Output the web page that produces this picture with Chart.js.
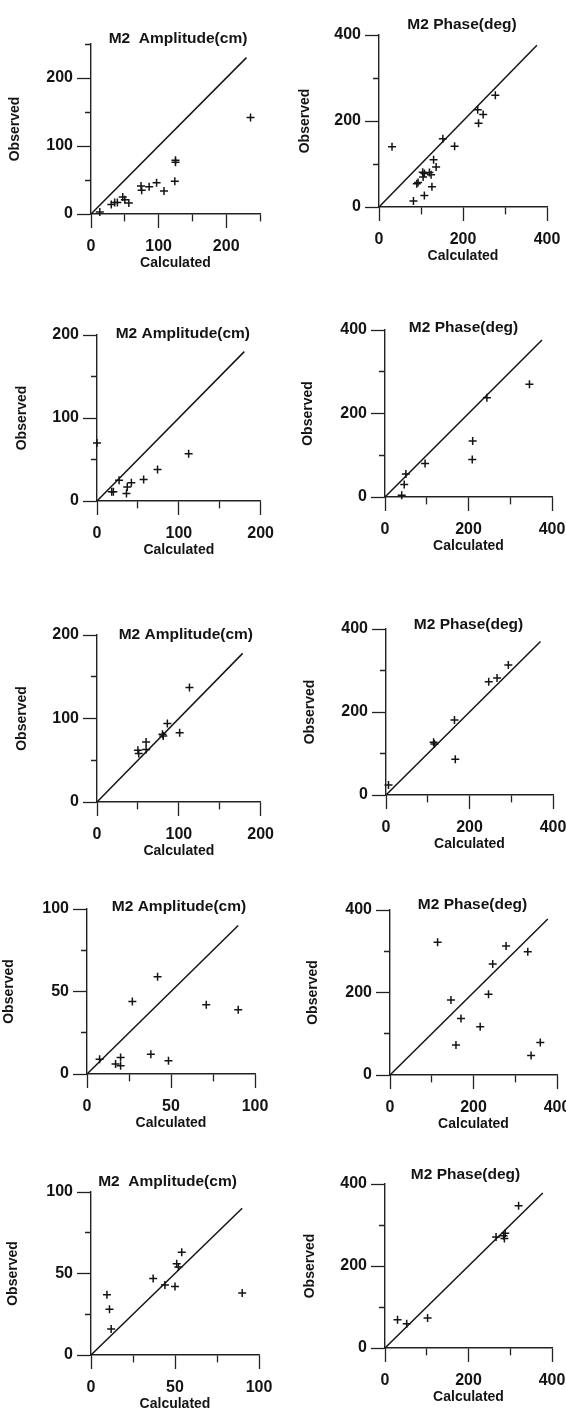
<!DOCTYPE html>
<html>
<head>
<meta charset="utf-8">
<script src="https://cdn.jsdelivr.net/npm/chart.js@4.4.1/dist/chart.umd.min.js"></script>
<style>
  html, body { margin: 0; padding: 0; background: #fff; }
  body { width: 566px; height: 1410px; overflow: hidden; position: relative; }
  canvas { position: absolute; }
</style>
</head>
<body>
<script>
// ---------------- DATA ----------------
const ampTitle1 = 'M2  Amplitude(cm)';
const ampTitle = 'M2 Amplitude(cm)';
const phaseTitle = 'M2 Phase(deg)';
const xTitle = 'Calculated';
const yTitle = 'Observed';

// Panel 1 (row 1, amplitude)
const p1Calc = [13, 30, 35, 39, 47, 50, 56, 74, 75, 86, 97, 108, 124, 125, 125, 236];
const p1Obs  = [3, 14, 17, 17, 25, 21, 16, 41, 35, 40, 46, 34, 48, 79, 76, 142];
// Panel 2 (row 1, phase)
const p2Calc = [31, 82, 90, 93, 104, 105, 108, 108, 120, 124, 126, 130, 136, 152, 180, 235, 237, 248, 277];
const p2Obs  = [140, 14, 54, 57, 81, 70, 78, 27, 80, 75, 47, 110, 93, 159, 141, 226, 195, 215, 260];
// Panel 3 (row 2, amplitude)
const p3Calc = [0, 18, 20, 27, 36, 37, 42, 57, 74, 112];
const p3Obs  = [70, 11, 11, 25, 9, 17, 22, 26, 38, 57];
// Panel 4 (row 2, phase)
const p4Calc = [40, 46, 50, 96, 209, 210, 244, 346];
const p4Obs  = [4, 30, 55, 80, 90, 134, 238, 270];
// Panel 5 (row 3, amplitude)
const p5Calc = [50, 51, 60, 60, 80, 81, 86, 101, 113];
const p5Obs  = [62, 58, 72, 63, 81, 79, 94, 83, 137];
// Panel 6 (row 3, phase)
const p6Calc = [6, 114, 116, 164, 166, 246, 266, 293];
const p6Obs  = [24, 127, 123, 181, 86, 273, 282, 313];
// Panel 7 (row 4, amplitude)
const p7Calc = [7.5, 17, 20, 20, 27, 38, 42, 48.5, 71, 90];
const p7Obs  = [9, 6, 10, 5, 44, 12, 59, 8, 42, 39];
// Panel 8 (row 4, phase)
const p8Calc = [114, 146, 158, 170, 216, 236, 246, 278, 330, 338, 360];
const p8Obs  = [322, 182, 73, 137, 117, 196, 269, 313, 299, 47, 79];
// Panel 9 (row 5, amplitude)
const p9Calc = [9.5, 11, 12, 37, 44, 50, 51, 52, 54, 90];
const p9Obs  = [37, 28, 16, 47, 43, 42, 56, 54, 63, 38];
// Panel 10 (row 5, phase)
const p10Calc = [30, 52, 102, 266, 284, 286, 288, 320];
const p10Obs  = [69, 59, 73, 271, 274, 267, 280, 347];

const panelTitles = [ampTitle1, phaseTitle, ampTitle, phaseTitle, ampTitle, phaseTitle, ampTitle, phaseTitle, ampTitle1, phaseTitle];
const panelCalc = [p1Calc, p2Calc, p3Calc, p4Calc, p5Calc, p6Calc, p7Calc, p8Calc, p9Calc, p10Calc];
const panelObs  = [p1Obs, p2Obs, p3Obs, p4Obs, p5Obs, p6Obs, p7Obs, p8Obs, p9Obs, p10Obs];
const axisMax   = [250, 400, 200, 400, 200, 400, 100, 400, 100, 400];
const tickStep  = [50, 100, 50, 100, 50, 100, 25, 100, 25, 100];
const labelStep = [100, 200, 100, 200, 100, 200, 50, 200, 50, 200];
const refLineEnd = [230, 376, 180, 376, 178, 370, 90, 378, 90, 378];

// ---------------- LAYOUT (page pixels) ----------------
// plot area boxes [left, top, right, bottom]
const plotBoxes = [
  [91, 44, 260, 214], [379, 35, 547, 207],
  [97, 335, 265, 501], [385, 330, 552, 497],
  [97, 635, 265, 802], [386, 629, 553, 795],
  [87, 909, 255, 1074], [390, 910, 557, 1075],
  [91, 1192, 259, 1355], [385, 1184, 552, 1348]
];
const titleShift = [[2.5, -5], [-1, -10], [4, -1], [-5, -2], [7, 0], [-1, -4], [8, -2], [-1, -5], [-7.5, -10], [-3, -9]];
const yTitleCenter = [15, 22, 21.7, 25, 21.7, 27, 9.3, 30, 13.3, 27];

const FONT = "'Liberation Sans', Arial, Helvetica, sans-serif";
const INK = '#141414';
Chart.defaults.font.family = FONT;
Chart.defaults.color = INK;

const panelTitlePlugin = {
  id: 'panelTitle',
  afterDraw(chart, args, opts) {
    const ca = chart.chartArea;
    const ctx = chart.ctx;
    ctx.save();
    ctx.font = 'bold 15.5px ' + FONT;
    ctx.fillStyle = INK;
    ctx.textAlign = 'center';
    ctx.textBaseline = 'middle';
    ctx.fillText(opts.text, (ca.left + ca.right) / 2 + opts.dx, ca.top + opts.dy);
    ctx.restore();
  }
};

for (let i = 0; i < 10; i++) {
  const [L, T, R, B] = plotBoxes[i];
  const rightCol = i % 2 === 1;
  const cx = rightCol ? 283 : 0;
  const cw = rightCol ? 300 : 283;
  const topRoom = 40, bottomRoom = 64, xBoxH = 58;
  const cy = T - topRoom;
  const ch = (B - T) + topRoom + bottomRoom;
  const canvas = document.createElement('canvas');
  canvas.width = cw; canvas.height = ch;
  canvas.style.left = cx + 'px'; canvas.style.top = cy + 'px';
  canvas.style.width = cw + 'px'; canvas.style.height = ch + 'px';
  document.body.appendChild(canvas);

  const yW = L - cx;
  const lStep = labelStep[i];
  const isMajor = (c) => c.tick && Math.abs(c.tick.value % lStep) < 1e-9;

  const pts = panelCalc[i].map((c, k) => ({ x: c, y: panelObs[i][k] }));
  const line = [{ x: 0, y: 0 }, { x: refLineEnd[i], y: refLineEnd[i] }];

  const axisCommon = (title, extra, minorDash) => Object.assign({
    type: 'linear',
    min: 0,
    max: axisMax[i],
    ticks: {
      stepSize: tickStep[i],
      autoSkip: false,
      maxRotation: 0,
      minRotation: 0,
      color: INK,
      font: { size: 16, weight: 'bold' },
      callback: (v) => (Math.abs(v % lStep) < 1e-9 ? String(v) : '')
    },
    grid: {
      drawOnChartArea: false,
      drawTicks: true,
      tickLength: 14,
      tickColor: '#222',
      tickWidth: 1.3,
      tickBorderDash: (c) => (isMajor(c) ? [] : minorDash)
    },
    border: { display: true, color: '#222', width: 1.4 },
    title: { display: true, text: title, color: INK, font: { size: 14, weight: 'bold' } }
  }, extra);

  const xScale = axisCommon(xTitle, { position: 'bottom', afterFit: (s) => { s.height = xBoxH; } }, [7, 40]);
  xScale.ticks.padding = 9;
  xScale.title.padding = { top: 0, bottom: 0 };
  const yScale = axisCommon(yTitle, { position: 'left', afterFit: (s) => { s.width = yW; } }, [0, 8, 6, 40]);
  yScale.ticks.padding = 4;
  yScale.title.padding = { top: yTitleCenter[i] - 8.4, bottom: 0 };

  new Chart(canvas, {
    type: 'scatter',
    data: {
      datasets: [
        {
          data: line,
          showLine: true,
          borderColor: INK,
          borderWidth: 1.5,
          pointRadius: 0,
          clip: false
        },
        {
          data: pts,
          showLine: false,
          pointStyle: 'cross',
          pointRadius: 4,
          pointBorderWidth: 1.5,
          pointBorderColor: INK,
          pointBackgroundColor: INK,
          clip: false
        }
      ]
    },
    options: {
      responsive: false,
      animation: false,
      devicePixelRatio: 1,
      layout: { padding: { left: 0, top: topRoom, bottom: bottomRoom - xBoxH, right: cw - (R - cx) } },
      plugins: {
        legend: { display: false },
        tooltip: { enabled: false },
        panelTitle: { text: panelTitles[i], dx: titleShift[i][0], dy: titleShift[i][1] }
      },
      scales: { x: xScale, y: yScale }
    },
    plugins: [panelTitlePlugin]
  });
}
</script>
</body>
</html>
